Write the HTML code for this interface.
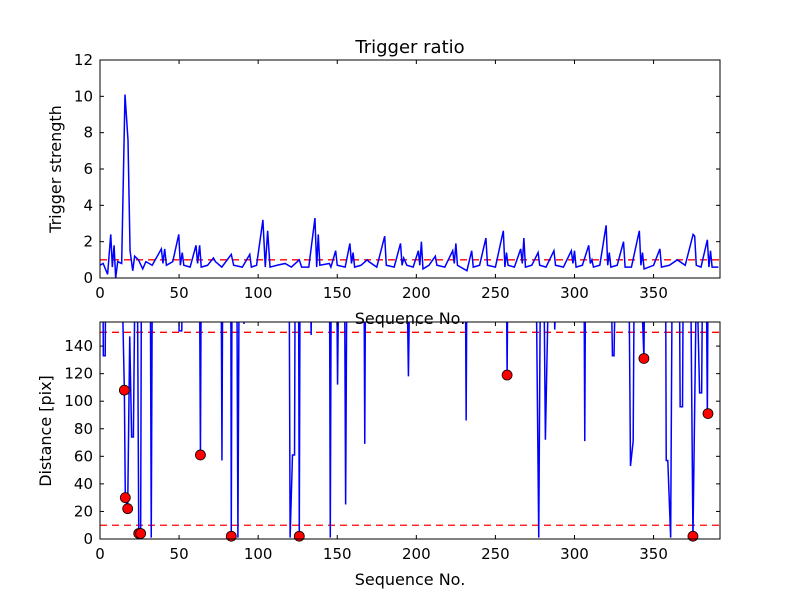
<!DOCTYPE html>
<html><head><meta charset="utf-8"><style>
html,body{margin:0;padding:0;background:#fff;}
svg{display:block;font-family:"DejaVu Sans","Liberation Sans",sans-serif;}
</style></head><body>
<svg id="chart" width="800" height="600" viewBox="0 0 800 600" xmlns="http://www.w3.org/2000/svg">
<rect width="800" height="600" fill="#fff"/>
<defs>
<clipPath id="clipTop"><rect x="100" y="60" width="620" height="218"/></clipPath>
<clipPath id="clipBot"><rect x="100" y="322" width="620" height="217"/></clipPath>
</defs>
<g id="g"></g>
</svg>
<script>
// ---- data: top panel (trigger strength) ----
const strengthX = [0,2,4.8,6.8,7.8,8.9,9.9,11.2,13.7,15.8,17.7,19,20.7,21.9,24.3,27,29,33,38.8,39.8,40.9,42,46,49.8,50.8,52,53,57,60.7,61.7,63,64,68,71.7,73,77,83,84.5,90,94.7,95.7,99,103,104.5,106,107.5,112,117,121,126,127.5,132,135.9,137,138,139,145,146,149,150,155,158,159,160,161,165,169,170,175,180,181,186,190,191,192,194,198,201.3,202.2,203.2,204.2,208,212,213,218,223,224,225,226,232,235,236,240,244,245,250,255,256,257,258,262,266,267,268,269,273,277,278,282,287,288,293,298,299,300,301,305,309,310,311,312,316,320,321,322,323,327,331,332,336,341,342,343,344,350,354,355,360,365,370,375,376,377,380,384,385,386,387,391];
const strengthY = [0.7,0.8,0.2,2.4,0.6,1.8,0.0,0.9,0.8,10.1,7.6,1.5,0.4,1.2,1.0,0.5,0.9,0.7,1.6,0.8,1.6,0.7,0.9,2.4,0.7,1.4,0.7,0.6,1.8,0.8,1.8,0.6,0.7,1.1,0.9,0.6,1.3,0.7,0.6,1.3,0.6,0.7,3.2,0.6,2.6,0.6,0.7,0.8,0.6,1.0,0.6,0.6,3.3,0.6,2.4,0.7,0.8,0.6,1.5,0.7,0.6,1.9,0.8,1.4,0.6,0.7,1.0,0.9,0.6,2.3,0.7,0.6,1.9,0.7,1.1,0.7,0.6,1.5,0.7,2.0,0.5,0.7,1.2,0.7,0.6,1.5,0.8,1.9,0.7,0.4,1.5,0.6,0.7,2.2,0.7,0.6,2.6,0.6,1.4,0.7,0.6,1.6,0.8,2.2,0.6,0.7,1.4,0.7,0.6,1.5,0.7,0.6,1.5,0.8,1.5,0.6,0.7,1.8,0.8,1.0,0.6,0.7,2.9,0.7,1.4,0.6,0.7,2.0,0.6,0.6,2.6,0.7,1.4,0.5,0.7,1.6,0.6,0.7,1.0,0.7,2.4,2.3,0.7,0.6,2.1,0.6,1.5,0.6,0.6];
const strengthThreshold = 1.0;
const topYTicks = [0,2,4,6,8,10,12];
// ---- data: bottom panel (distance); 200 = off-scale (clipped) ----
const distX = [0,1.8,2.1,3.3,3.6,13.7,15.4,16.0,17.5,18.8,20.0,21.1,22.2,23.6,24.5,25.7,26.2,31.8,32.4,33.1,49.6,50.0,51.7,52.1,62.9,63.5,64.0,76.6,77.1,77.6,82.7,83.0,83.5,86.5,87.2,88,90.5,91.0,91.8,119.6,120.2,121.7,123,123.4,125.5,126,126.5,133,133.5,134,145.1,145.6,146.2,149.6,150.2,151,154.6,155.3,156.1,166.9,167.4,167.9,194,195,196,231,231.5,232,256.9,257.4,257.9,275.7,277.4,278.5,280.6,281.6,283.8,287,287.5,289,306,306.5,307,323,324,325,326,334.4,335.4,337.1,337.8,341.8,343.9,344.4,357.6,358,359,360.8,361.8,366.3,366.8,368.3,368.8,373.4,374.9,377.2,379.1,380.4,381,383.3,384,384.5,392];
const distY = [200,200,133,133,200,200,108,30,22,147,74,74,200,200,4,4,200,200,1,200,200,151,151,200,200,61,200,200,57,200,200,2,200,200,1,200,200,156,200,200,1,61,61,200,200,2,200,200,148,200,200,1,200,200,112,200,200,25,200,200,69,200,200,118,200,200,86,200,200,119,200,200,1,200,200,72,200,200,152,200,200,71,200,200,133,133,200,200,53,71,200,200,131,200,200,57,57,1,200,200,96,96,200,200,1,200,106,106,200,200,91,200,200];
const markerX = [15.4,16.0,17.5,24.5,25.7,63.5,83.0,126,257.4,343.9,374.9,384.4];
const markerY = [108,30,22,4,4,61,2,2,119,131,2,91];
const distThresholds = [10,150];
const botYTicks = [0,20,40,60,80,100,120,140];
const xTicks = [0,50,100,150,200,250,300,350];

const NS='http://www.w3.org/2000/svg';
const g=document.getElementById('g');
function mk(tag,attrs,parent){const e=document.createElementNS(NS,tag);for(const k in attrs)e.setAttribute(k,attrs[k]);(parent||g).appendChild(e);return e;}
const X0=100,X1=720,XMAX=392;
const sx=v=>X0+v*(X1-X0)/XMAX;
const topY=v=>278-v*(218/12);
const botY=v=>539-v*1.378;

function axes(name,y0,y1,yTicks,sy){
  const ax=mk('g',{});
  
  
  xTicks.forEach(t=>{
    const x=sx(t);
    mk('line',{x1:x,x2:x,y1:y1,y2:y1-4,stroke:'#000','stroke-width':1},ax);
    mk('line',{x1:x,x2:x,y1:y0,y2:y0+4,stroke:'#000','stroke-width':1},ax);
    const tx=mk('text',{x:x,y:y1+20,'text-anchor':'middle','font-size':15},ax);
    
    
    tx.textContent=t;
  });
  yTicks.forEach(t=>{
    const y=sy(t);
    mk('line',{x1:X0,x2:X0+4,y1:y,y2:y,stroke:'#000','stroke-width':1},ax);
    mk('line',{x1:X1,x2:X1-4,y1:y,y2:y,stroke:'#000','stroke-width':1},ax);
    const tx=mk('text',{x:X0-7,y:y+5,'text-anchor':'end','font-size':15},ax);
    
    
    tx.textContent=t;
  });
  const fr=mk('rect',{x:X0,y:y0,width:X1-X0,height:y1-y0,fill:'none',stroke:'#000','stroke-width':1},ax);
  
  
}

// top panel series
const tg=mk('g',{'clip-path':'url(#clipTop)'});


const th=mk('line',{x1:X0,x2:X1,y1:topY(strengthThreshold),y2:topY(strengthThreshold),stroke:'#f00','stroke-width':1.3,'stroke-dasharray':'7,5'},tg);


const tl=mk('polyline',{points:strengthX.map((x,i)=>sx(x)+','+topY(strengthY[i])).join(' '),fill:'none',stroke:'#00f','stroke-width':1.5},tg);


axes('top-axes',60,278,topYTicks,topY);

// bottom panel
const bg=mk('g',{'clip-path':'url(#clipBot)'});


distThresholds.forEach(v=>{
  const l=mk('line',{x1:X0,x2:X1,y1:botY(v),y2:botY(v),stroke:'#f00','stroke-width':1.3,'stroke-dasharray':'7,5'},bg);
  
  
});
const bl=mk('polyline',{points:distX.map((x,i)=>sx(x)+','+botY(distY[i])).join(' '),fill:'none',stroke:'#00f','stroke-width':1.5},bg);


markerX.forEach((x,i)=>{
  const c=mk('circle',{cx:sx(x),cy:botY(markerY[i]),r:5,fill:'#f00',stroke:'#000','stroke-width':0.8});
  
  
});
axes('bottom-axes',322,539,botYTicks,botY);

function label(txt,attrs,name){const t=mk('text',attrs);t.textContent=txt;}
label('Trigger ratio',{x:410,y:53,'text-anchor':'middle','font-size':18},'chart-title');
label('Trigger strength',{x:0,y:0,'text-anchor':'middle','font-size':16,transform:'translate(61,169) rotate(-90)'},'top-y-axis-title');
label('Sequence No.',{x:410,y:324,'text-anchor':'middle','font-size':16},'top-x-axis-title');
label('Distance [pix]',{x:0,y:0,'text-anchor':'middle','font-size':16,transform:'translate(51,431) rotate(-90)'},'bottom-y-axis-title');
label('Sequence No.',{x:410,y:585,'text-anchor':'middle','font-size':16},'bottom-x-axis-title');
</script>
</body></html>
